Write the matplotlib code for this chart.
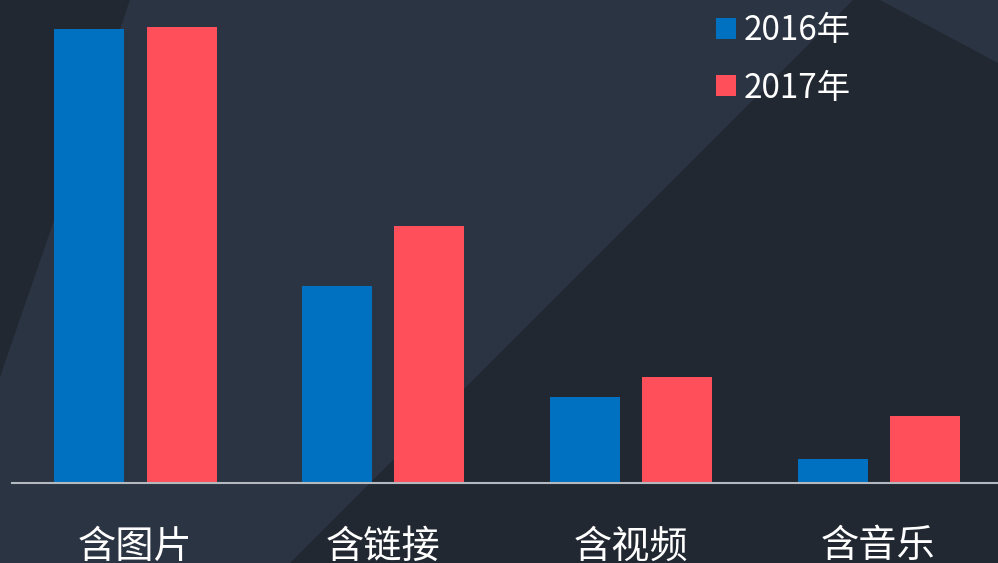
import matplotlib.pyplot as plt
from matplotlib.patches import Polygon
import numpy as np

plt.rcParams['font.family'] = ['Noto Sans CJK SC', 'DejaVu Sans']

categories = ['含图片', '含链接', '含视频', '含音乐']
series_2016 = [45.4, 19.7, 8.6, 2.4]
series_2017 = [45.6, 25.7, 10.6, 6.7]
legend_labels = ['2016年', '2017年']

col_2016 = '#0070c0'
col_2017 = '#ff4f5a'
bg_light = '#2b3442'
bg_dark = '#222832'

W, H = 998, 563
fig = plt.figure(figsize=(W / 100, H / 100), dpi=100)
fig.patch.set_facecolor(bg_light)

# background shapes, in pixel coords
bg = fig.add_axes([0, 0, 1, 1])
bg.set_xlim(0, W)
bg.set_ylim(H, 0)
bg.axis('off')
bg.add_patch(Polygon([(0, 0), (130, 0), (0, 377)], closed=True, color=bg_dark, lw=0))
bg.add_patch(Polygon([(853, 0), (880, 0), (998, 63), (998, 563), (290, 563)],
                     closed=True, color=bg_dark, lw=0))

# main chart
left_px, base_px = 12, 483
ax = fig.add_axes([left_px / W, 1 - base_px / H, 1 - left_px / W, base_px / H])
ax.patch.set_alpha(0)
spacing = 247.67
ax.set_xlim(-(135.5 - left_px) / spacing, (W - 135.5) / spacing)
ax.set_ylim(0, base_px / 10)

x = np.arange(len(categories))
bw = 70 / spacing
off = 46 / spacing
b1 = ax.bar(x - off, series_2016, bw, color=col_2016, label=legend_labels[0])
b2 = ax.bar(x + off, series_2017, bw, color=col_2017, label=legend_labels[1])

for s in ['top', 'right', 'left']:
    ax.spines[s].set_visible(False)
ax.spines['bottom'].set_color('#b4b8bf')
ax.spines['bottom'].set_linewidth(1.5)
ax.set_yticks([])
ax.set_xticks(x)
ax.set_xticklabels(categories, fontsize=27.5, color='white')
ax.tick_params(axis='x', length=0, pad=32)

leg = ax.legend(loc='upper left', bbox_to_anchor=(703 / W, 1.0), bbox_transform=fig.transFigure,
                frameon=False, fontsize=24, handlelength=0.6, handleheight=0.6,
                handletextpad=0.22, labelspacing=0.67, borderaxespad=0.0)
for t in leg.get_texts():
    t.set_color('white')

fig.savefig('out.png', dpi=100, facecolor=fig.get_facecolor())
